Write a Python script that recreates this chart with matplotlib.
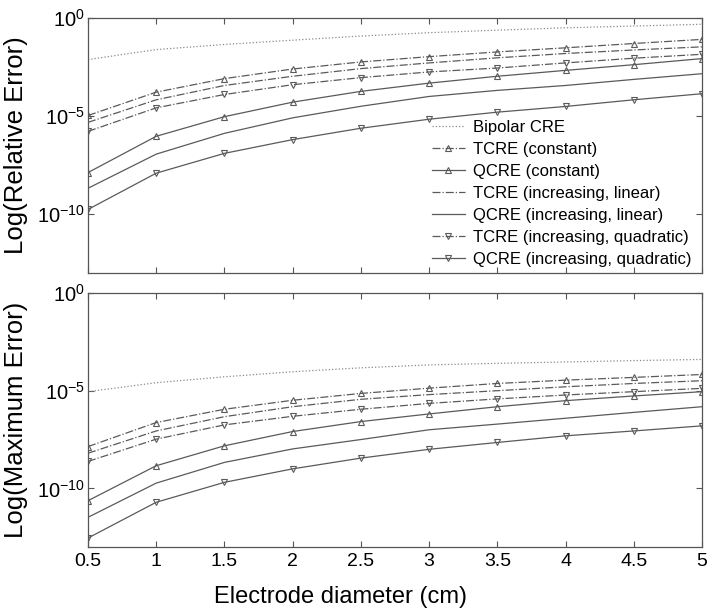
import numpy as np
import matplotlib
matplotlib.use("Agg")
import matplotlib.pyplot as plt

plt.rcParams['font.family'] = ['Liberation Sans', 'DejaVu Sans']
plt.rcParams['mathtext.fontset'] = 'custom'
plt.rcParams['mathtext.rm'] = 'Liberation Sans'
plt.rcParams['mathtext.it'] = 'Liberation Sans:italic'

# electrode diameter (cm)
diameter = [0.5, 1, 1.5, 2, 2.5, 3, 3.5, 4, 4.5, 5]

# log10 of relative error (top panel)
rel_bipolar = [-2.12, -1.61, -1.35, -1.13, -0.92, -0.75, -0.62, -0.50, -0.41, -0.32]
rel_tcre_const = [-4.97, -3.78, -3.09, -2.60, -2.24, -1.97, -1.73, -1.52, -1.30, -1.09]
rel_qcre_const = [-7.88, -6.03, -5.03, -4.29, -3.74, -3.32, -2.97, -2.67, -2.38, -2.07]
rel_tcre_lin = [-5.32, -4.17, -3.44, -2.97, -2.58, -2.29, -2.03, -1.81, -1.63, -1.47]
rel_qcre_lin = [-8.68, -6.94, -5.88, -5.09, -4.50, -4.00, -3.69, -3.44, -3.13, -2.84]
rel_tcre_quad = [-5.78, -4.58, -3.90, -3.40, -3.04, -2.75, -2.55, -2.29, -2.05, -1.85]
rel_qcre_quad = [-9.76, -7.91, -6.90, -6.20, -5.62, -5.16, -4.80, -4.51, -4.17, -3.86]

# log10 of maximum error (bottom panel)
max_bipolar = [-5.05, -4.59, -4.29, -4.03, -3.83, -3.68, -3.60, -3.53, -3.46, -3.40]
max_tcre_const = [-7.86, -6.63, -5.95, -5.49, -5.14, -4.87, -4.63, -4.46, -4.32, -4.17]
max_qcre_const = [-10.63, -8.84, -7.82, -7.09, -6.58, -6.19, -5.82, -5.51, -5.27, -5.05]
max_tcre_lin = [-8.20, -7.06, -6.33, -5.82, -5.44, -5.20, -5.00, -4.80, -4.63, -4.49]
max_qcre_lin = [-11.48, -9.73, -8.67, -7.98, -7.50, -7.00, -6.71, -6.41, -6.11, -5.82]
max_tcre_quad = [-8.62, -7.48, -6.75, -6.31, -5.95, -5.65, -5.42, -5.22, -5.05, -4.88]
max_qcre_quad = [-12.54, -10.71, -9.69, -9.00, -8.45, -8.00, -7.65, -7.31, -7.06, -6.80]

labels = ["Bipolar CRE", "TCRE (constant)", "QCRE (constant)",
          "TCRE (increasing, linear)", "QCRE (increasing, linear)",
          "TCRE (increasing, quadratic)", "QCRE (increasing, quadratic)"]

# (linestyle, marker, color) per series
styles = [(":", None, "#8a8a8a"),
          ("-.", "^", "#5a5a5a"),
          ("-", "^", "#5a5a5a"),
          ("-.", None, "#5a5a5a"),
          ("-", None, "#5a5a5a"),
          ("-.", "v", "#5a5a5a"),
          ("-", "v", "#5a5a5a")]

top_series = [rel_bipolar, rel_tcre_const, rel_qcre_const, rel_tcre_lin,
              rel_qcre_lin, rel_tcre_quad, rel_qcre_quad]
bot_series = [max_bipolar, max_tcre_const, max_qcre_const, max_tcre_lin,
              max_qcre_lin, max_tcre_quad, max_qcre_quad]

fig = plt.figure(figsize=(7.08, 6.15), dpi=100)
ax1 = fig.add_axes([88/708, 1-273/615, 614/708, 255/615])
ax2 = fig.add_axes([88/708, 1-547/615, 614/708, 254/615])

axis_col = "#555555"
for ax, series in [(ax1, top_series), (ax2, bot_series)]:
    for s, lab, (ls, mk, c) in zip(series, labels, styles):
        ax.plot(diameter, np.power(10.0, s), linestyle=ls, marker=mk, color=c,
                lw=0.9, markersize=5, mfc="none", mew=0.8, label=lab)
    ax.set_yscale("log")
    ax.set_ylim(1e-13, 1)
    ax.set_xlim(0.5, 5)
    ax.set_xticks(diameter)
    ax.set_yticks([1e-10, 1e-5, 1])
    ax.set_yticklabels([r"$10^{-10}$", r"$10^{-5}$", r"$10^{0}$"])
    ax.minorticks_off()
    ax.tick_params(direction="in", top=True, right=True, length=4.5,
                   width=0.8, color=axis_col, labelsize=14, pad=4.5)
    ax.tick_params(axis="y", pad=2, labelsize=14.5)
    for sp in ax.spines.values():
        sp.set_color(axis_col)
        sp.set_linewidth(0.9)

ax1.set_xticklabels([])
ax2.set_xticklabels(["0.5", "1", "1.5", "2", "2.5", "3", "3.5", "4", "4.5", "5"])

ax1.set_ylabel("Log(Relative Error)", fontsize=18.5)
ax2.set_ylabel("Log(Maximum Error)", fontsize=18.5)
ax1.yaxis.set_label_coords(-0.098, 0.5)
ax2.yaxis.set_label_coords(-0.098, 0.5)

fig.text(341/708, 1-597/615, "Electrode diameter (cm)", fontsize=17,
         ha="center", va="center")

ax1.legend(loc="lower right", frameon=False, fontsize=12, handlelength=2.0,
           handletextpad=0.5, labelspacing=0.42, borderaxespad=0.2,
           numpoints=1, bbox_to_anchor=(1.0, -0.016))

fig.savefig("out.png", dpi=100)
